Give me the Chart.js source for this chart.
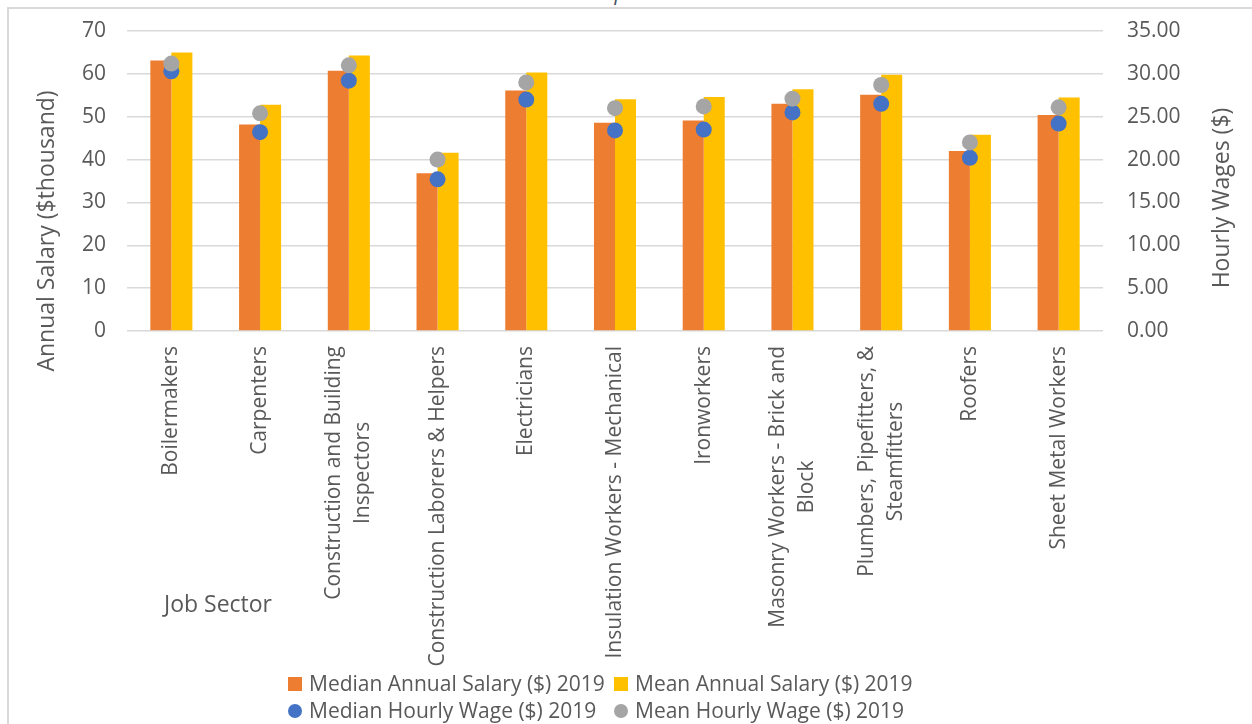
<!DOCTYPE html>
<html>
<head>
<meta charset="utf-8">
<script src="https://cdn.jsdelivr.net/npm/chart.js@4/dist/chart.umd.min.js"></script>
<style>
  html, body { margin: 0; padding: 0; background: #fff; overflow: hidden; }
  body { width: 1252px; height: 724px; position: relative; font-family: "Open Sans", sans-serif; }
  #frame { position: absolute; left: 7px; top: 7px; width: 1300px; height: 800px; border-left: 2px solid #d9d9d9; border-top: 2px solid #d9d9d9; }
  #cut-title { position: absolute; left: 0; width: 1252px; top: -22px; text-align: center; font-size: 21px; font-style: italic; color: #44546a; }
  #wrap { position: absolute; left: 0; top: 0; width: 1252px; height: 724px; }
  #legend { position: absolute; top: 670px; left: 0; width: 1252px; font-size: 21px; color: #595959; }
  .row { position: relative; height: 27px; }
  .item { position: absolute; display: flex; align-items: center; white-space: nowrap; line-height: 27px; }
  .mk { width: 14px; height: 14px; margin-right: 7px; }
  .dot { border-radius: 50%; }
</style>
</head>
<body>
<div id="frame"></div>
<div id="cut-title">Occupations</div>
<div id="wrap"><canvas id="chart" width="1252" height="724"></canvas></div>
<div id="legend"></div>
<script>
const sectors = [
  "Boilermakers",
  "Carpenters",
  ["Construction and Building", "Inspectors"],
  "Construction Laborers & Helpers",
  "Electricians",
  "Insulation Workers - Mechanical",
  "Ironworkers",
  ["Masonry Workers - Brick and", "Block"],
  ["Plumbers, Pipefitters, &", "Steamfitters"],
  "Roofers",
  "Sheet Metal Workers"
];
const medianSalary = [63.1, 48.2, 60.7, 36.8, 56.1, 48.6, 49.1, 53.0, 55.1, 42.0, 50.4];
const meanSalary   = [65.0, 52.8, 64.3, 41.6, 60.3, 54.1, 54.6, 56.4, 59.8, 45.8, 54.5];
const medianHourly = [30.3, 23.2, 29.2, 17.7, 27.0, 23.4, 23.5, 25.5, 26.5, 20.2, 24.2];
const meanHourly   = [31.2, 25.4, 31.0, 20.0, 29.0, 26.0, 26.2, 27.1, 28.7, 22.0, 26.1];

const seriesNames = [
  "Median Annual Salary ($) 2019",
  "Mean Annual Salary ($) 2019",
  "Median Hourly Wage ($) 2019",
  "Mean Hourly Wage ($) 2019"
];
const colors = ["#ED7D31", "#FFC000", "#4472C4", "#A5A5A5"];

Chart.defaults.font.family = "'Open Sans', sans-serif";
Chart.defaults.font.size = 21;
Chart.defaults.color = "#595959";

// draws the rotated, centre-aligned category labels and the axis titles
const textPlugin = {
  id: "texts",
  afterDraw(chart) {
    const ctx = chart.ctx;
    const xs = chart.scales.x;
    ctx.save();
    ctx.fillStyle = "#595959";
    ctx.font = "21px 'Open Sans', sans-serif";
    ctx.textAlign = "center";
    ctx.textBaseline = "middle";
    sectors.forEach((lab, i) => {
      const lines = Array.isArray(lab) ? lab : [lab];
      const maxW = Math.max(...lines.map(l => ctx.measureText(l).width));
      ctx.save();
      ctx.translate(xs.getPixelForTick(i), chart.chartArea.bottom + 15);
      ctx.rotate(-Math.PI / 2);
      lines.forEach((l, j) => ctx.fillText(l, -maxW / 2, (j - (lines.length - 1) / 2) * 29));
      ctx.restore();
    });
    ctx.font = "23px 'Open Sans', sans-serif";
    ctx.fillText("Job Sector", 218, 605);
    ctx.save();
    ctx.translate(47, 231);
    ctx.rotate(-Math.PI / 2);
    ctx.fillText("Annual Salary ($thousand)", 0, 0);
    ctx.restore();
    ctx.save();
    ctx.translate(1222, 198);
    ctx.rotate(-Math.PI / 2);
    ctx.fillText("Hourly Wages ($)", 0, 0);
    ctx.restore();
    ctx.restore();
  }
};

new Chart(document.getElementById("chart"), {
  type: "bar",
  data: {
    labels: sectors,
    datasets: [
      { label: seriesNames[0], data: medianSalary, backgroundColor: colors[0], yAxisID: "y", order: 2,
        barPercentage: 1, categoryPercentage: 0.474 },
      { label: seriesNames[1], data: meanSalary, backgroundColor: colors[1], yAxisID: "y", order: 3,
        barPercentage: 1, categoryPercentage: 0.474 },
      { type: "line", label: seriesNames[2], data: medianHourly, yAxisID: "y1", order: 1, showLine: false,
        pointRadius: 8, pointBackgroundColor: colors[2], pointBorderWidth: 0, borderColor: colors[2] },
      { type: "line", label: seriesNames[3], data: meanHourly, yAxisID: "y1", order: 0, showLine: false,
        pointRadius: 8, pointBackgroundColor: colors[3], pointBorderWidth: 0, borderColor: colors[3] }
    ]
  },
  options: {
    responsive: false,
    animation: false,
    layout: { padding: { left: 67, right: 69, top: 31, bottom: 53 } },
    plugins: { legend: { display: false }, tooltip: { enabled: false } },
    scales: {
      x: {
        grid: { display: false },
        border: { display: false },
        ticks: { color: "transparent", autoSkip: false, minRotation: 90, maxRotation: 90 },
        afterFit: s => { s.height = 340; }
      },
      y: {
        position: "left",
        min: 0, max: 70,
        ticks: { stepSize: 10, padding: 21, font: { lineHeight: 0.8 } },
        grid: { color: "#d9d9d9", lineWidth: 1.5, drawTicks: false },
        border: { display: false },
        afterFit: s => { s.width = 60; }
      },
      y1: {
        position: "right",
        min: 0, max: 35,
        ticks: { stepSize: 5, padding: 24, font: { lineHeight: 0.5 }, callback: v => v.toFixed(2) },
        grid: { display: false, drawTicks: false },
        border: { display: false },
        afterFit: s => { s.width = 80; }
      }
    }
  },
  plugins: [textPlugin]
});

// legend in two rows of two, as in the source
const legend = document.getElementById("legend");
const rows = [[0, 1], [2, 3]];
rows.forEach(r => {
  const row = document.createElement("div");
  row.className = "row";
  r.forEach((k, c) => {
    const it = document.createElement("div");
    it.className = "item";
    it.style.left = (c === 0 ? 288 : 614) + "px";
    const mk = document.createElement("span");
    mk.className = "mk" + (k > 1 ? " dot" : "");
    mk.style.background = colors[k];
    it.appendChild(mk);
    it.appendChild(document.createTextNode(seriesNames[k]));
    row.appendChild(it);
  });
  legend.appendChild(row);
});
</script>
</body>
</html>
